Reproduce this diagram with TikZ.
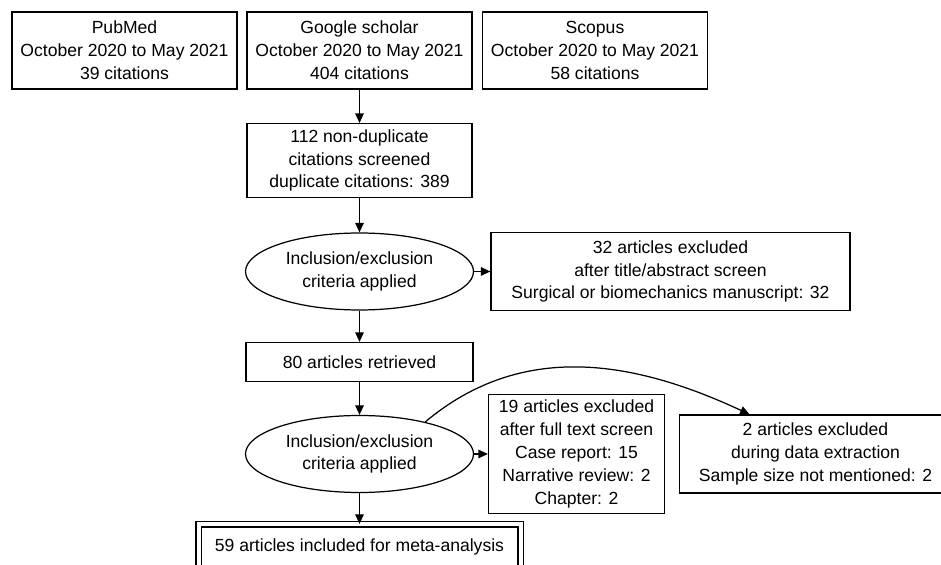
\documentclass[tikz,border=0pt]{standalone}
\usepackage{fontspec}
\setmainfont{Liberation Sans}
\usetikzlibrary{shapes.geometric, arrows.meta, positioning}

\begin{document}
\begin{tikzpicture}[node distance=2.2cm, line width=0.7pt,
  sourcebox/.style={rectangle, draw, minimum width=4.5cm, minimum height=1.54cm, align=center, inner xsep=2pt, font=\fontsize{10}{13}\selectfont},
  critoval/.style={ellipse, draw, minimum width=4.56cm, minimum height=1.54cm, inner sep=0pt, align=center, font=\fontsize{10}{13}\selectfont},
  flowarrow/.style={-{Triangle[length=1.9mm, width=1.7mm]}}]
\clip (0,0) rectangle (18.82,-11.3);
% Search sources
\node (google) at (7.19,-1.01) [sourcebox] {Google scholar\\October 2020 to May 2021\\404 citations};
\node (pubmed) [sourcebox, left of=google, xshift=-2.5cm] {PubMed\\October 2020 to May 2021\\39 citations};
\node (scopus) [sourcebox, right of=google, xshift=2.51cm] {Scopus\\October 2020 to May 2021\\58 citations};
% Screening
\node (screened) [sourcebox, minimum height=1.24cm, below of=google] {112 non-duplicate\\citations screened\\duplicate citations: 389};
\node (incl1) [critoval, below of=screened, yshift=-0.02cm] {Inclusion/exclusion\\criteria applied};
\node (excl1) [sourcebox, minimum width=7.18cm, minimum height=1.56cm, right of=incl1, xshift=4.02cm] {32 articles excluded\\after title/abstract screen\\Surgical or biomechanics manuscript: 32};
\node (retrieved) [sourcebox, minimum width=4.54cm, minimum height=0.78cm, below of=incl1, yshift=0.39cm] {80 articles retrieved};
\node (incl2) [critoval, below of=retrieved, yshift=0.36cm] {Inclusion/exclusion\\criteria applied};
\node (excl2) [sourcebox, minimum width=3.52cm, minimum height=2.3cm, right of=incl2, xshift=2.14cm] {19 articles excluded\\after full text screen\\Case report: 15\\Narrative review: 2\\Chapter: 2};
\node (extract) [sourcebox, minimum width=5.44cm, minimum height=1.56cm, right of=excl2, xshift=2.58cm] {2 articles excluded\\during data extraction\\Sample size not mentioned: 2};
\node (included) [sourcebox, double, double distance=0.08cm, minimum width=6.44cm, minimum height=0.9cm, below of=incl2, yshift=0.34cm] {59 articles included for meta-analysis};

% Connectors
\draw [flowarrow] (google) -- (screened);
\draw [flowarrow] (screened) -- (incl1);
\draw [flowarrow] (incl1) -- (excl1);
\draw [flowarrow] (incl1) -- (retrieved);
\draw [flowarrow] (retrieved) -- (incl2);
\draw [flowarrow] (incl2) -- (excl2);
\draw [flowarrow] (incl2.26) to[out=40, in=155] (extract.149);
\draw [flowarrow] (incl2) -- (included);
\end{tikzpicture}
\end{document}
